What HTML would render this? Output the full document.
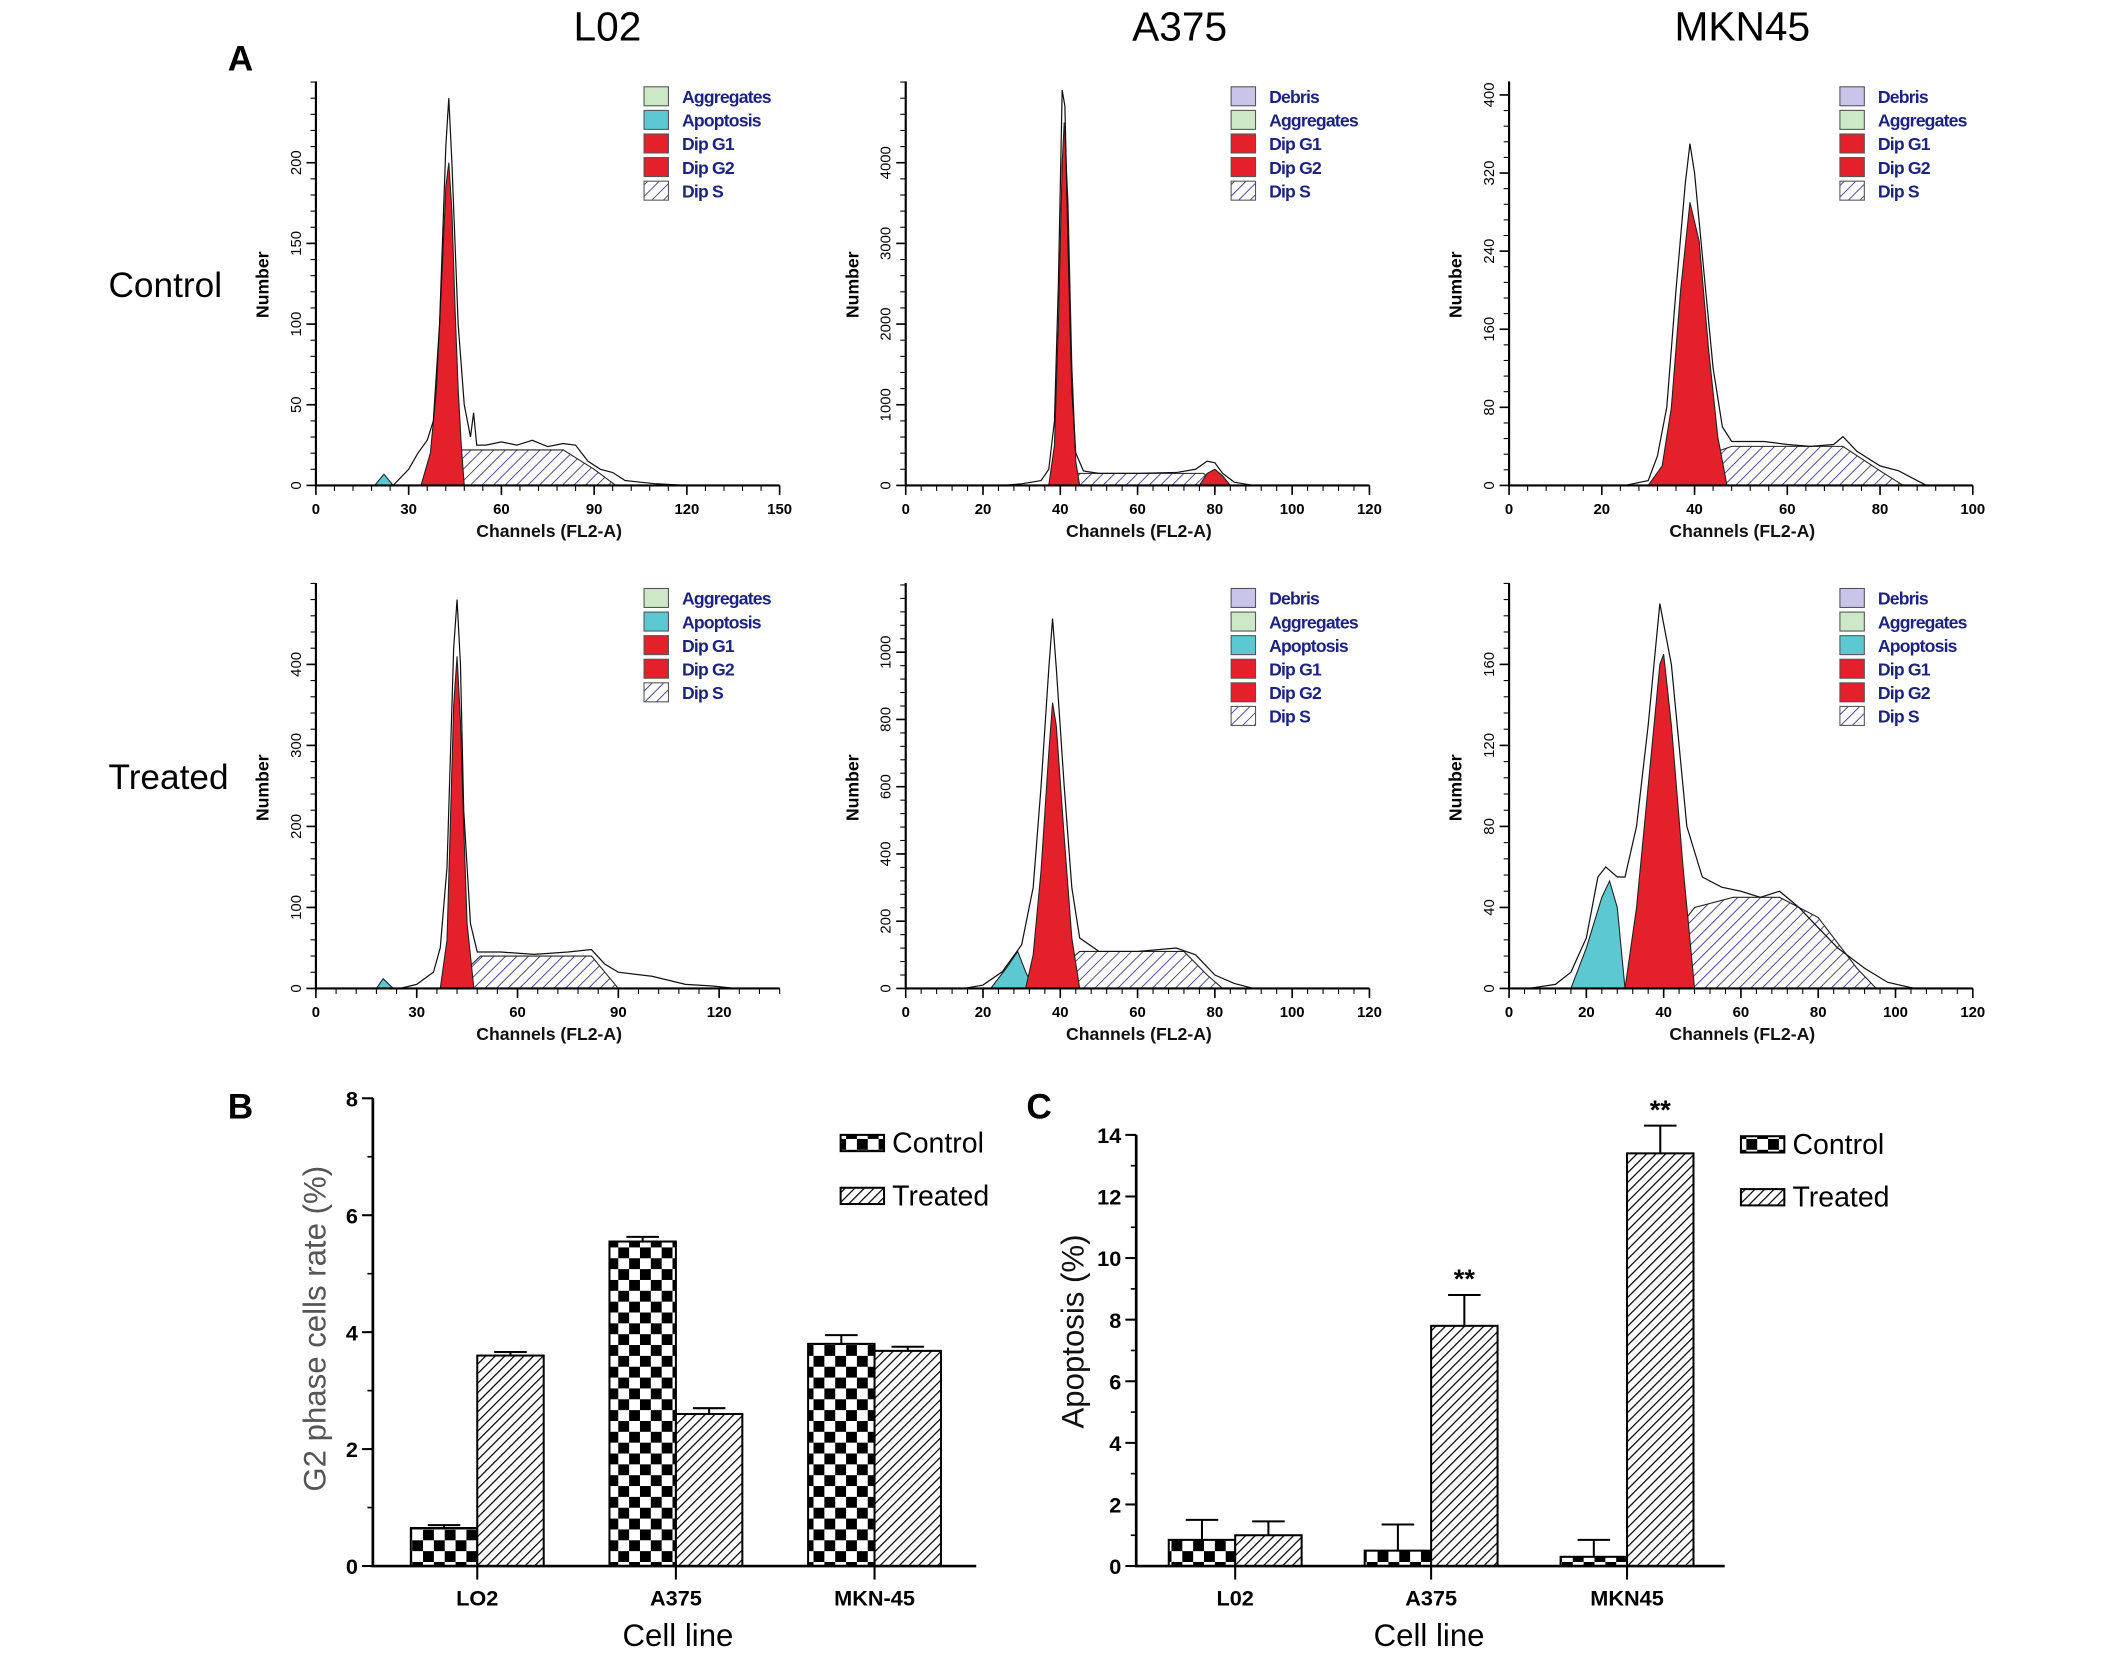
<!DOCTYPE html>
<html><head><meta charset="utf-8">
<style>
html,body{margin:0;padding:0;background:#fff;}
svg{display:block;}
text{font-family:"Liberation Sans",sans-serif;}
</style></head>
<body>
<svg id="fig" xmlns="http://www.w3.org/2000/svg" width="2126" height="1666" viewBox="0 0 1568 1228.7">
<defs>
<pattern id="hatchS" patternUnits="userSpaceOnUse" width="6" height="6" patternTransform="rotate(45)">
<rect width="6" height="6" fill="#fff"/><line x1="0" y1="0" x2="0" y2="6" stroke="#2a2a8a" stroke-width="1.2"/></pattern>
<pattern id="hatchB" patternUnits="userSpaceOnUse" width="5" height="5" patternTransform="rotate(45)">
<rect width="5" height="5" fill="#fff"/><line x1="0" y1="0" x2="0" y2="5" stroke="#000" stroke-width="1.8"/></pattern>
<pattern id="checkB" patternUnits="userSpaceOnUse" width="16" height="16">
<rect width="16" height="16" fill="#fff"/><rect width="8" height="8" fill="#000"/><rect x="8" y="8" width="8" height="8" fill="#000"/></pattern>
</defs>
<g id="root"></g>
</svg>
<script>
// ---------- histogram data (channel, count) ----------
const l02cG1=[[34,0],[37,20],[39,60],[41,140],[42,185],[43,200],[44,170],[45,110],[46,60],[47,25],[48,0]];
const l02cS=[[38,0],[42,10],[47,22],[80,22],[90,10],[97,0]];
const l02cAp=[[19,0],[22,7],[25,0]];
const l02cRaw=[[15,0],[25,0],[30,10],[33,20],[36,28],[38,40],[40,100],[42,210],[43,240],[44,200],[46,100],[48,50],[50,30],[51,45],[52,25],[55,25],[60,27],[65,25],[70,28],[75,24],[80,26],[84,25],[88,15],[92,10],[96,8],[100,3],[105,2],[110,1],[120,0],[140,0]];

const a375cG1=[[37,0],[38.5,500],[39.5,2000],[40.5,4000],[41,4500],[42,3500],[43,1500],[44,300],[45,0]];
const a375cS=[[40,0],[42,150],[77,150],[80,50],[82,0]];
const a375cG2=[[76,0],[78,150],[80,200],[82,120],[84,0]];
const a375cRaw=[[25,0],[30,20],[35,60],[37,200],[38.5,800],[39.5,2500],[40.5,4900],[41.2,4700],[42,3000],[43,1200],[44,400],[46,180],[50,150],[60,150],[70,160],[75,200],[78,300],[80,280],[82,150],[85,40],[90,0],[100,0]];

const mknCG1=[[30,0],[33,20],[35,80],[37,200],[39,290],[41,250],[43,140],[45,50],[47,0]];
const mknCS=[[36,0],[42,30],[48,40],[72,40],[80,15],[85,0]];
const mknCRaw=[[15,0],[25,0],[30,5],[32,30],[34,80],[36,200],[38,310],[39,350],[40,320],[42,220],[44,120],[46,60],[48,45],[55,45],[60,42],[65,40],[70,42],[72,50],[75,35],[80,20],[84,15],[88,5],[90,0]];

const l02tG1=[[37,0],[39,60],[40,200],[41,350],[42,410],[43,330],[44,200],[45,80],[47,0]];
const l02tS=[[40,0],[44,20],[49,40],[82,40],[88,10],[90,0]];
const l02tAp=[[18,0],[20,12],[23,0]];
const l02tRaw=[[15,0],[25,0],[30,5],[35,20],[37,50],[39,150],[41,420],[42,480],[43,400],[44,220],[46,80],[48,45],[55,45],[65,42],[75,45],[82,48],[86,30],[90,20],[100,15],[110,5],[118,3],[125,0]];

const a375tG1=[[31,0],[33,100],[35,350],[37,700],[38,850],[39,780],[41,450],[43,150],[45,0]];
const a375tAp=[[22,0],[26,60],[29,110],[31,50],[33,0]];
const a375tS=[[36,0],[40,60],[45,110],[72,110],[78,40],[82,0]];
const a375tRaw=[[15,0],[20,10],[25,50],[30,130],[33,300],[35,600],[37,950],[38,1100],[39,950],[41,600],[43,300],[45,150],[50,110],[60,110],[70,120],[75,100],[80,40],[85,15],[90,0],[100,0]];

const mknTG1=[[30,0],[33,40],[36,100],[39,160],[40,165],[42,130],[45,60],[48,0]];
const mknTAp=[[16,0],[20,20],[24,45],[26,53],[28,40],[30,0]];
const mknTS=[[32,0],[40,20],[48,40],[58,45],[70,45],[80,35],[90,10],[95,0]];
const mknTRaw=[[5,0],[12,2],[16,8],[20,25],[23,55],[25,60],[28,55],[30,55],[33,80],[36,130],[38,170],[39,190],[40,180],[42,160],[44,120],[46,80],[50,55],[55,50],[60,48],[65,45],[70,48],[75,40],[80,30],[85,20],[92,10],[98,3],[105,0]];

// ---------- bar chart data ----------
const cellLinesB=["LO2","A375","MKN-45"];
const g2Control=[0.65,5.55,3.8];
const g2ControlErr=[0.05,0.08,0.15];
const g2Treated=[3.6,2.6,3.68];
const g2TreatedErr=[0.06,0.1,0.07];
const g2Ticks=[0,2,4,6,8];

const cellLinesC=["L02","A375","MKN45"];
const apoControl=[0.85,0.5,0.3];
const apoControlErr=[0.65,0.85,0.55];
const apoTreated=[1.0,7.8,13.4];
const apoTreatedErr=[0.45,1.0,0.9];
const apoTicks=[0,2,4,6,8,10,12,14];
const apoSig=["","**","**"];

const NS="http://www.w3.org/2000/svg";
const root=document.getElementById('root');
function mk(tag,attrs,parent){const e=document.createElementNS(NS,tag);for(const k in attrs)e.setAttribute(k,attrs[k]);(parent||root).appendChild(e);return e;}
function txt(s,attrs,parent){const e=mk('text',attrs,parent);e.textContent=s;return e;}

// ---------- static labels ----------
let t;
t=txt("L02",{x:448,y:30,'font-size':30,'text-anchor':'middle'});
t=txt("A375",{x:870,y:30,'font-size':30,'text-anchor':'middle'});
t=txt("MKN45",{x:1285,y:30,'font-size':30,'text-anchor':'middle'});
t=txt("A",{x:168,y:52,'font-size':26,'font-weight':'bold','font-family':'Liberation Serif'});
t=txt("Control",{x:80,y:219,'font-size':26});
t=txt("Treated",{x:80,y:582,'font-size':26});
t=txt("B",{x:168,y:825,'font-size':26,'font-weight':'bold','font-family':'Liberation Serif'});
t=txt("C",{x:757,y:825,'font-size':26,'font-weight':'bold','font-family':'Liberation Serif'});

const legendColors={"Debris":"#c9c4ea","Aggregates":"#cde8c6","Apoptosis":"#5cc8d2","Dip G1":"#e4202a","Dip G2":"#e4202a","Dip S":"url(#hatchS)"};

function histogram(name,cfg){
  const g=mk('g',{});
  
  
  const xs=v=>cfg.x0+(v/cfg.xmax)*cfg.w;
  const ys=v=>cfg.y0-(v/cfg.ymax)*cfg.h;
  const poly=(arr)=>arr.map(p=>xs(p[0]).toFixed(1)+","+ys(p[1]).toFixed(1)).join(" ");
  cfg.layers.forEach(L=>{
    const p=mk('polygon',{points:poly(L.pts),fill:L.fill,stroke:L.stroke||'#222','stroke-width':0.8},g);
    
    
  });
  const raw=mk('polyline',{points:poly(cfg.raw),fill:'none',stroke:'#111','stroke-width':0.9},g);
  
  
  const ax=mk('path',{d:`M${cfg.x0},${cfg.top}V${cfg.y0}H${cfg.x0+cfg.w}`,stroke:'#000','stroke-width':1.6,fill:'none'},g);
  
  
  cfg.xticks.forEach(v=>{
    mk('line',{x1:xs(v),x2:xs(v),y1:cfg.y0,y2:cfg.y0+7,stroke:'#000','stroke-width':1.2},g);
    const tl=txt(String(v),{x:xs(v),y:cfg.y0+21,'font-size':11,'font-weight':'bold','text-anchor':'middle'},g);
    
    
  });
  const step=(cfg.xticks[1]-cfg.xticks[0])/5;
  for(let v=0;v<=cfg.xmax+0.01;v+=step){mk('line',{x1:xs(v),x2:xs(v),y1:cfg.y0,y2:cfg.y0+4,stroke:'#000','stroke-width':0.8},g);}
  const ystep=(cfg.yticks[1]-cfg.yticks[0])/5;
  for(let v=0;ys(v)>=cfg.top;v+=ystep){mk('line',{x1:cfg.x0-4,x2:cfg.x0,y1:ys(v),y2:ys(v),stroke:'#000','stroke-width':0.8},g);}
  cfg.yticks.forEach(v=>{
    mk('line',{x1:cfg.x0-7,x2:cfg.x0,y1:ys(v),y2:ys(v),stroke:'#000','stroke-width':1.2},g);
    const tl=txt(String(v),{x:cfg.x0-14,y:ys(v),'font-size':11,'text-anchor':'middle',transform:`rotate(-90 ${cfg.x0-14} ${ys(v)})`,'dominant-baseline':'middle'},g);
    
    
  });
  const xl=txt("Channels (FL2-A)",{x:cfg.x0+172,y:cfg.y0+38,'font-size':13,'font-weight':'bold','text-anchor':'middle',fill:'#111'},g);
  
  
  const yx=cfg.x0-35,yy=cfg.y0-148;
  const yl=txt("Number",{x:yx,y:yy,'font-size':13,'font-weight':'bold','text-anchor':'middle',transform:`rotate(-90 ${yx} ${yy})`},g);
  
  
  cfg.legend.forEach((lab,i)=>{
    const ly=cfg.ly+i*17.4;
    const r=mk('rect',{x:cfg.lx,y:ly-7,width:18,height:14,fill:legendColors[lab],stroke:'#555','stroke-width':0.8},g);
    
    
    const lt=txt(lab,{x:cfg.lx+28,y:ly+5,'font-size':13,'font-weight':'bold',fill:'#1c2380','letter-spacing':'-0.6'},g);
    
    
  });
}

const S='url(#hatchS)',R='#e4202a',C='#5cc8d2';
histogram('histogram-l02-control',{x0:233,y0:358,top:60,w:342,h:238,xmax:150,ymax:200,xticks:[0,30,60,90,120,150],yticks:[0,50,100,150,200],
 layers:[{pts:l02cS,fill:S,name:'dip-s'},{pts:l02cAp,fill:C,name:'apoptosis'},{pts:l02cG1,fill:R,name:'dip-g1'}],raw:l02cRaw,lx:475,ly:71,legend:["Aggregates","Apoptosis","Dip G1","Dip G2","Dip S"]});
histogram('histogram-a375-control',{x0:668,y0:358,top:60,w:342,h:238,xmax:120,ymax:4000,xticks:[0,20,40,60,80,100,120],yticks:[0,1000,2000,3000,4000],
 layers:[{pts:a375cS,fill:S,name:'dip-s'},{pts:a375cG2,fill:R,name:'dip-g2'},{pts:a375cG1,fill:R,name:'dip-g1'}],raw:a375cRaw,lx:908,ly:71,legend:["Debris","Aggregates","Dip G1","Dip G2","Dip S"]});
histogram('histogram-mkn45-control',{x0:1113,y0:358,top:60,w:342,h:288,xmax:100,ymax:400,xticks:[0,20,40,60,80,100],yticks:[0,80,160,240,320,400],
 layers:[{pts:mknCS,fill:S,name:'dip-s'},{pts:mknCG1,fill:R,name:'dip-g1'}],raw:mknCRaw,lx:1357,ly:71,legend:["Debris","Aggregates","Dip G1","Dip G2","Dip S"]});
histogram('histogram-l02-treated',{x0:233,y0:729,top:430,w:342,h:239,xmax:138,ymax:400,xticks:[0,30,60,90,120],yticks:[0,100,200,300,400],
 layers:[{pts:l02tS,fill:S,name:'dip-s'},{pts:l02tAp,fill:C,name:'apoptosis'},{pts:l02tG1,fill:R,name:'dip-g1'}],raw:l02tRaw,lx:475,ly:441,legend:["Aggregates","Apoptosis","Dip G1","Dip G2","Dip S"]});
histogram('histogram-a375-treated',{x0:668,y0:729,top:430,w:342,h:248,xmax:120,ymax:1000,xticks:[0,20,40,60,80,100,120],yticks:[0,200,400,600,800,1000],
 layers:[{pts:a375tS,fill:S,name:'dip-s'},{pts:a375tAp,fill:C,name:'apoptosis'},{pts:a375tG1,fill:R,name:'dip-g1'}],raw:a375tRaw,lx:908,ly:441,legend:["Debris","Aggregates","Apoptosis","Dip G1","Dip G2","Dip S"]});
histogram('histogram-mkn45-treated',{x0:1113,y0:729,top:430,w:342,h:239,xmax:120,ymax:160,xticks:[0,20,40,60,80,100,120],yticks:[0,40,80,120,160],
 layers:[{pts:mknTS,fill:S,name:'dip-s'},{pts:mknTAp,fill:C,name:'apoptosis'},{pts:mknTG1,fill:R,name:'dip-g1'}],raw:mknTRaw,lx:1357,ly:441,legend:["Debris","Aggregates","Apoptosis","Dip G1","Dip G2","Dip S"]});

function barChart(name,cfg){
  const g=mk('g',{});
  
  
  const ys=v=>cfg.y0-(v/cfg.ymax)*cfg.h;
  cfg.cats.forEach((c,i)=>{
    const cx=cfg.c0+i*cfg.dc;
    [[cfg.ctrl,cfg.ctrlErr,'url(#checkB)',-1,'bar-control'],[cfg.trt,cfg.trtErr,'url(#hatchB)',0,'bar-treated']].forEach(s=>{
      const v=s[0][i],e=s[1][i];
      const x=cx+s[3]*cfg.bw;
      const ex=x+cfg.bw/2;
      mk('line',{x1:ex,x2:ex,y1:ys(v),y2:ys(v+e),stroke:'#000','stroke-width':1.5},g);
      mk('line',{x1:ex-12,x2:ex+12,y1:ys(v+e),y2:ys(v+e),stroke:'#000','stroke-width':1.5},g);
      const r=mk('rect',{x:x,y:ys(v),width:cfg.bw,height:cfg.y0-ys(v),fill:s[2],stroke:'#000','stroke-width':1.5},g);
      
      
    });
    if(cfg.sig&&cfg.sig[i]){
      const st=txt(cfg.sig[i],{x:cx+cfg.bw/2,y:ys(cfg.trt[i]+cfg.trtErr[i])-5,'font-size':20,'font-weight':'bold','text-anchor':'middle'},g);
      
      
    }
    mk('line',{x1:cx,x2:cx,y1:cfg.y0,y2:cfg.y0+10,stroke:'#000','stroke-width':1.5},g);
    const cl=txt(c,{x:cx,y:cfg.y0+29,'font-size':16,'font-weight':'bold','text-anchor':'middle'},g);
    
    
  });
  const ax=mk('path',{d:`M${cfg.x0},${ys(cfg.ymax)}V${cfg.y0}H${cfg.x1}`,stroke:'#000','stroke-width':2,fill:'none'},g);
  
  
  for(let v=0;v<=cfg.ymax;v+=1){mk('line',{x1:cfg.x0-4,x2:cfg.x0,y1:ys(v),y2:ys(v),stroke:'#000','stroke-width':1.2},g);}
  cfg.ticks.forEach(v=>{
    mk('line',{x1:cfg.x0-8,x2:cfg.x0,y1:ys(v),y2:ys(v),stroke:'#000','stroke-width':1.5},g);
    const tl=txt(String(v),{x:cfg.x0-11,y:ys(v)+6,'font-size':16,'font-weight':'bold','text-anchor':'end'},g);
    
    
  });
  const xl=txt("Cell line",{x:cfg.xtx,y:cfg.y0+59,'font-size':23,'text-anchor':'middle'},g);
  
  
  const yl=txt(cfg.ytitle,{x:cfg.ytx,y:cfg.yty,'font-size':23,'text-anchor':'middle',fill:cfg.ycol,transform:`rotate(-90 ${cfg.ytx} ${cfg.yty})`},g);
  
  
  [['Control','url(#checkB)',0],['Treated','url(#hatchB)',1]].forEach(l=>{
    const ly=cfg.ly+l[2]*39;
    const r=mk('rect',{x:cfg.lx,y:ly-6,width:32,height:12,fill:l[1],stroke:'#000','stroke-width':1.5},g);
    
    
    const lt=txt(l[0],{x:cfg.lx+38,y:ly+7,'font-size':21},g);
    
    
  });
}
barChart('bar-chart-g2',{x0:275,x1:720,y0:1155,h:345,ymax:8,c0:352,dc:146.5,bw:49,cats:cellLinesB,ctrl:g2Control,ctrlErr:g2ControlErr,trt:g2Treated,trtErr:g2TreatedErr,ticks:g2Ticks,
 ytitle:"G2 phase cells rate (%)",ytx:240,yty:980,ycol:'#555',xtx:500,lx:620,ly:843});
barChart('bar-chart-apoptosis',{x0:838,x1:1272,y0:1155,h:318,ymax:14,c0:911,dc:144.5,bw:49,cats:cellLinesC,ctrl:apoControl,ctrlErr:apoControlErr,trt:apoTreated,trtErr:apoTreatedErr,ticks:apoTicks,sig:apoSig,
 ytitle:"Apoptosis (%)",ytx:799,yty:982,ycol:'#111',xtx:1054,lx:1284,ly:844});
</script>
</body></html>
